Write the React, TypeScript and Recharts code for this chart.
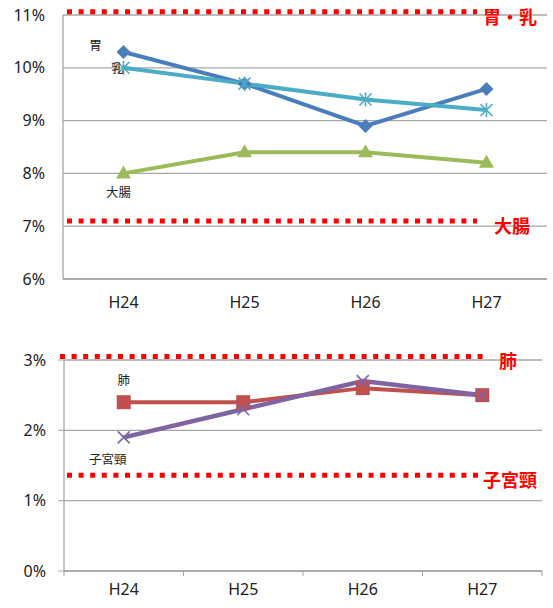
import React from 'react'
import { LineChart, Line, XAxis, YAxis, CartesianGrid, ReferenceLine, LabelList } from 'recharts'

const years = ['H24', 'H25', 'H26', 'H27']

// top chart: 胃・乳・大腸
const stomach = [10.3, 9.7, 8.9, 9.6]
const breast = [10.0, 9.7, 9.4, 9.2]
const colon = [8.0, 8.4, 8.4, 8.2]
const topTicks = [6, 7, 8, 9, 10, 11]
const topTargets = [11.06, 7.1]
const topTargetNames = ['胃・乳', '大腸']

// bottom chart: 肺・子宮頸
const lung = [2.4, 2.4, 2.6, 2.5]
const cervix = [1.9, 2.3, 2.7, 2.5]
const bottomTicks = [0, 1, 2, 3]
const bottomTargets = [3.05, 1.36]
const bottomTargetNames = ['肺', '子宮頸']

const topData = years.map((y, i) => ({ year: y, 胃: stomach[i], 乳: breast[i], 大腸: colon[i] }))
const bottomData = years.map((y, i) => ({ year: y, 肺: lung[i], 子宮頸: cervix[i] }))

const FONT = '"Noto Sans", "Noto Sans CJK JP", sans-serif'
const CJK = '"Noto Sans CJK JP", sans-serif'
const GRID = '#a6a6a6'

const Diamond = (p: any) => {
  const { cx, cy, index } = p
  const r = 7
  return <path key={`dm-${index}`} d={`M${cx},${cy - r}L${cx + r},${cy}L${cx},${cy + r}L${cx - r},${cy}Z`} fill="#4a7ebb" />
}

const Star = (p: any) => {
  const { cx, cy, index } = p
  const r = 6
  return (
    <g key={`st-${index}`} stroke="#4bacc6" strokeWidth={1.6}>
      <line x1={cx - r} y1={cy - r} x2={cx + r} y2={cy + r} />
      <line x1={cx - r} y1={cy + r} x2={cx + r} y2={cy - r} />
      <line x1={cx} y1={cy - r - 1} x2={cx} y2={cy + r + 1} />
    </g>
  )
}

const Triangle = (p: any) => {
  const { cx, cy, index } = p
  return <path key={`tr-${index}`} d={`M${cx},${cy - 8}L${cx + 7.5},${cy + 5}L${cx - 7.5},${cy + 5}Z`} fill="#9bbb59" />
}

const Square = (p: any) => {
  const { cx, cy, index } = p
  return <rect key={`sq-${index}`} x={cx - 7} y={cy - 7} width={14} height={14} fill="#c0504d" />
}

const Cross = (p: any) => {
  const { cx, cy, index } = p
  const r = 6
  return (
    <g key={`cr-${index}`} stroke="#8064a2" strokeWidth={1.6}>
      <line x1={cx - r} y1={cy - r} x2={cx + r} y2={cy + r} />
      <line x1={cx - r} y1={cy + r} x2={cx + r} y2={cy - r} />
    </g>
  )
}

// series name next to the first point only
const firstLabel = (name: string, dx: number, dy: number) => (p: any) => {
  if (p.index !== 0) return null
  return (
    <text x={p.x + dx} y={p.y + dy} textAnchor="middle" dominantBaseline="central" fontSize={12.5} fontFamily={CJK} fill="#222">
      {name}
    </text>
  )
}

// red dotted target line with its label on the right
const target = (name: string, startX: number, endX: number, labelX: number) => (p: any) => (
  <g>
    <line x1={startX} y1={p.y1} x2={endX} y2={p.y2} stroke="#ff0000" strokeWidth={5} strokeDasharray="5 6.6" />
    <text x={labelX} y={p.y1 + 4} dominantBaseline="central" fontSize={18} fontWeight="bold" fontFamily={CJK} fill="#ff0000">
      {name}
    </text>
  </g>
)

const tickStyle = { fill: '#222', fontSize: 16, fontFamily: FONT }

// x tick for bottom chart: label at band centre, tick marks on band edges
const BAND = (553 - 64 - 11) / 4
const BottomXTick = (p: any) => {
  const { x, y, index, payload } = p
  const axisY = y - 13
  return (
    <g>
      <line x1={x - BAND / 2} y1={axisY} x2={x - BAND / 2} y2={axisY + 5} stroke={GRID} />
      {index === years.length - 1 && <line x1={x + BAND / 2} y1={axisY} x2={x + BAND / 2} y2={axisY + 5} stroke={GRID} />}
      <text x={x} y={y} dy="0.71em" textAnchor="middle" {...tickStyle}>
        {payload.value}
      </text>
    </g>
  )
}

export default function App() {
  return (
    <div style={{ position: 'absolute', left: 0, top: 0, width: 553, height: 608, background: '#fff' }}>
      <div style={{ position: 'absolute', left: 0, top: 0 }}>
        <LineChart width={553} height={325} data={topData} margin={{ top: 15, right: 6, bottom: 0, left: 0 }}>
          <CartesianGrid vertical={false} stroke={GRID} strokeWidth={1.3} />
          <XAxis dataKey="year" scale="band" height={46} tick={tickStyle} tickLine={false} tickMargin={12} axisLine={{ stroke: GRID, strokeWidth: 1.3 }} />
          <YAxis width={63} domain={[6, 11]} ticks={topTicks} tickFormatter={(v) => `${v}%`} tick={tickStyle} tickLine={false} tickMargin={12} axisLine={{ stroke: GRID, strokeWidth: 1.3 }} />
          <ReferenceLine y={topTargets[0]} ifOverflow="visible" shape={target(topTargetNames[0], 67, 477, 483)} />
          <ReferenceLine y={topTargets[1]} ifOverflow="visible" shape={target(topTargetNames[1], 67, 477, 494)} />
          <Line dataKey="胃" stroke="#4a7ebb" strokeWidth={4} dot={Diamond} activeDot={false} isAnimationActive={false}>
            <LabelList content={firstLabel('胃', -28, -7)} />
          </Line>
          <Line dataKey="乳" stroke="#4bacc6" strokeWidth={4} dot={Star} activeDot={false} isAnimationActive={false}>
            <LabelList content={firstLabel('乳', -6, 0)} />
          </Line>
          <Line dataKey="大腸" stroke="#9bbb59" strokeWidth={4} dot={Triangle} activeDot={false} isAnimationActive={false}>
            <LabelList content={firstLabel('大腸', -5, 18)} />
          </Line>
        </LineChart>
      </div>
      <div style={{ position: 'absolute', left: 0, top: 325 }}>
        <LineChart width={553} height={283} data={bottomData} margin={{ top: 35, right: 11, bottom: 0, left: 0 }}>
          <CartesianGrid vertical={false} stroke={GRID} strokeWidth={1.3} />
          <XAxis dataKey="year" scale="band" height={37} tick={<BottomXTick />} tickSize={0} tickMargin={13} tickLine={false} axisLine={{ stroke: GRID, strokeWidth: 1.3 }} interval={0} />
          <YAxis width={64} domain={[0, 3]} ticks={bottomTicks} tickFormatter={(v) => `${v}%`} tick={tickStyle} tickSize={6} tickMargin={12} tickLine={{ stroke: GRID }} axisLine={{ stroke: GRID, strokeWidth: 1.3 }} />
          <ReferenceLine y={bottomTargets[0]} ifOverflow="visible" shape={target(bottomTargetNames[0], 60, 485, 499)} />
          <ReferenceLine y={bottomTargets[1]} ifOverflow="visible" shape={target(bottomTargetNames[1], 67, 478, 483)} />
          <Line dataKey="肺" stroke="#c0504d" strokeWidth={4} dot={Square} activeDot={false} isAnimationActive={false}>
            <LabelList content={firstLabel('肺', 0, -23)} />
          </Line>
          <Line dataKey="子宮頸" stroke="#8064a2" strokeWidth={4.5} dot={Cross} activeDot={false} isAnimationActive={false}>
            <LabelList content={firstLabel('子宮頸', -16, 21)} />
          </Line>
        </LineChart>
      </div>
    </div>
  )
}
